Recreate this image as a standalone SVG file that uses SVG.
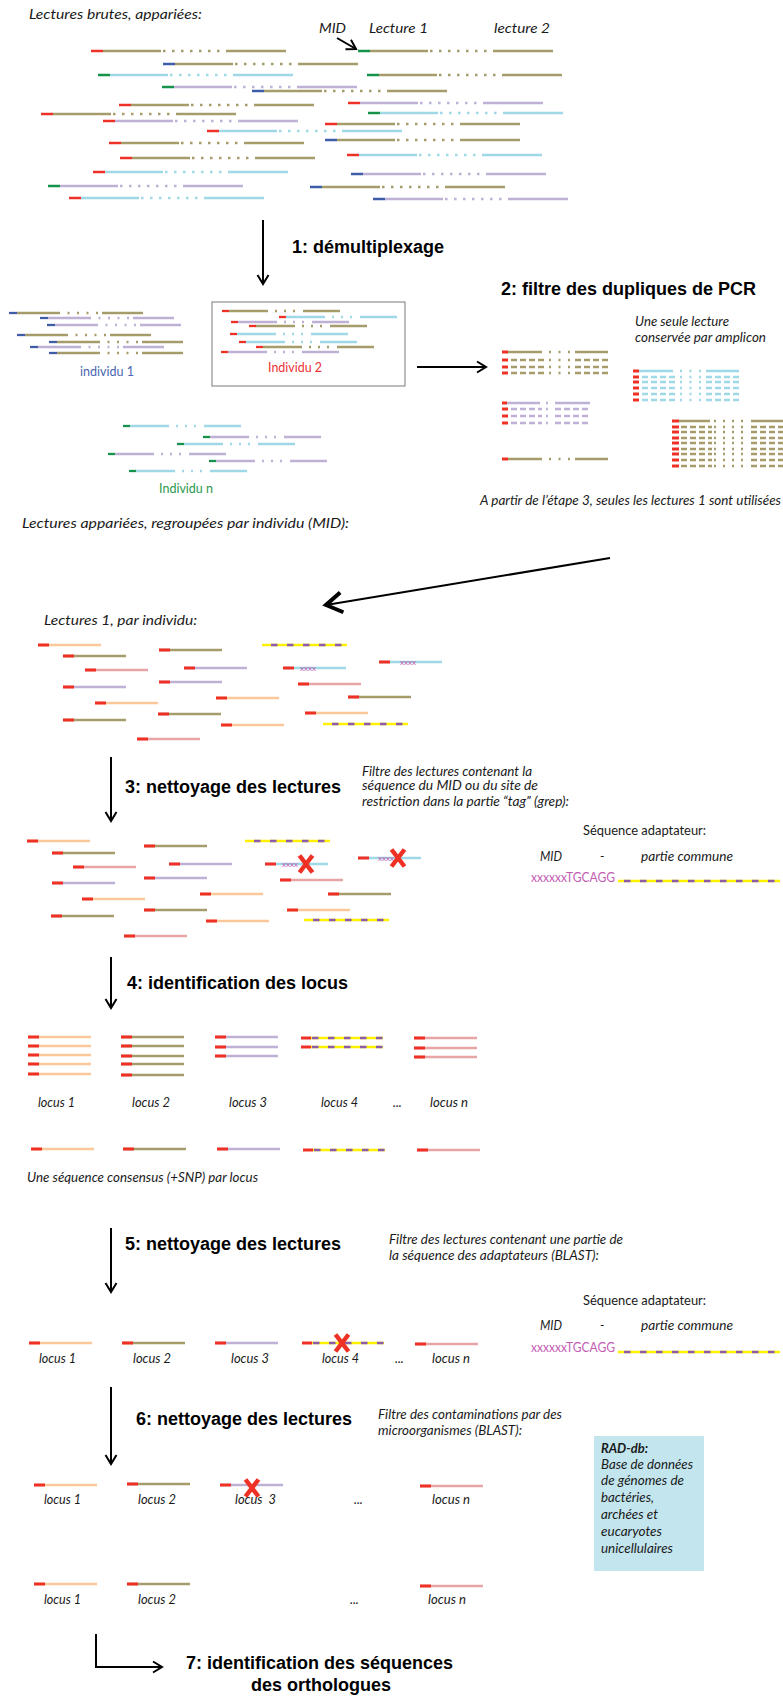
<svg xmlns="http://www.w3.org/2000/svg" width="783" height="1697" viewBox="0 0 783 1697">
<style>
.t{font-family:Lato,"Liberation Sans",sans-serif;font-style:italic;font-size:12.5px;fill:#1a1a1a}
.u{font-family:Lato,"Liberation Sans",sans-serif;font-size:12.5px}
.h{font-family:"Liberation Sans",Arial,sans-serif;font-weight:bold;font-size:18px;fill:#000}
.ol{stroke:#a69b6b}.lv{stroke:#bfb1d6}.lb{stroke:#9fd8e6}.pc{stroke:#fcc89b}.pk{stroke:#e8a5a6}
.mr{color:#ee3124}.mb{color:#3f5ca8}.mg{color:#16924b}
.x{stroke:#ee3124;stroke-width:4.5;fill:none}
.xx{font-family:Lato,"Liberation Sans",sans-serif;font-size:8px;fill:#c35cb3}
.c{fill:none;stroke:#000;stroke-width:2}
</style>
<defs>
<marker id="ah" markerUnits="userSpaceOnUse" markerWidth="14" markerHeight="14" viewBox="-3 -7 14 14" refX="9" refY="0" orient="auto"><path d="M0,-5.5 L9,0 L0,5.5" fill="none" stroke="#000" stroke-width="2"/></marker>
<marker id="ahB" markerUnits="userSpaceOnUse" markerWidth="26" markerHeight="26" viewBox="-3 -13 26 26" refX="16" refY="0" orient="auto"><path d="M0,-10 L16,0 L0,10" fill="none" stroke="#000" stroke-width="4"/></marker>
<g id="pL" fill="none" stroke-width="2.5"><path d="M12 0H70M135 0H195"/><path d="M72 0H129" stroke-dasharray="2.5 6.5"/><path d="M0 0H12" stroke="currentColor"/></g>
<g id="pS" fill="none" stroke-width="2.3"><path d="M8 0H49M93 0H134"/><path d="M49 0H89" stroke-dasharray="2 7.5"/><path d="M0 0H8" stroke="currentColor"/></g>
<g id="pS2" fill="none" stroke-width="2.3"><path d="M7 0H44M81 0H118"/><path d="M44 0H73" stroke-dasharray="2 7"/><path d="M0 0H7" stroke="currentColor"/></g>
<g id="pP" fill="none" stroke-width="2.5"><path d="M6 0H40M73 0H106"/><path d="M47 0H69" stroke-dasharray="2 7.5"/><path d="M0 0H6" stroke="currentColor" stroke-width="3"/></g>
<g id="pD" fill="none" stroke-width="2.5"><path d="M9 0H42" stroke-dasharray="6 3"/><path d="M73 0H108" stroke-dasharray="6 3"/><path d="M47 0H69" stroke-dasharray="2 7.5"/><path d="M0 0H6" stroke="currentColor" stroke-width="3"/></g>
<g id="pP2" fill="none" stroke-width="2.5"><path d="M5 0H38M53 0H88M44 0H46"/><path d="M0 0H5" stroke="currentColor" stroke-width="3"/></g>
<g id="pD2" fill="none" stroke-width="2.5"><path d="M9 0H40M53 0H89" stroke-dasharray="6 3"/><path d="M44 0H46"/><path d="M0 0H6" stroke="currentColor" stroke-width="3"/></g>
<g id="pP3" fill="none" stroke-width="2.5"><path d="M7 0H38M79 0H115"/><path d="M42 0H72" stroke-dasharray="2 7"/><path d="M0 0H7" stroke="currentColor" stroke-width="3"/></g>
<g id="pD3" fill="none" stroke-width="2.5"><path d="M9 0H40M79 0H115" stroke-dasharray="6 3"/><path d="M42 0H72" stroke-dasharray="2 7"/><path d="M0 0H7" stroke="currentColor" stroke-width="3"/></g>
<g id="r" fill="none" stroke-width="2.5"><path d="M0 0H63"/><path d="M0 0H11" stroke="currentColor" stroke-width="3"/></g>
<g id="ad" fill="none" stroke-width="2.5"><path d="M0 0H85" stroke="#fff100"/><path d="M9 0H85" stroke="#8c5ca8" stroke-dasharray="6.5 9.5"/></g>
<g id="r4" fill="none" stroke-width="2.5"><path d="M10 0H82" stroke="#fff100"/><path d="M11 0H82" stroke="#8c5ca8" stroke-dasharray="6.5 9.5"/><path d="M0 0H10" stroke="#ee3124" stroke-width="3"/></g>
<path id="X" d="M-6.5 -8.5L6.5 8.5M6.5 -8.5L-6.5 8.5"/>
</defs>

<g id="connectors">
<path class="c" d="M337 38L356 49" marker-end="url(#ah)" stroke-width="1.5"/>
<path class="c" d="M263 220V284" marker-end="url(#ah)"/>
<path class="c" d="M417 367H486" marker-end="url(#ah)"/>
<path class="c" d="M610 558L326 605" stroke-width="3" marker-end="url(#ahB)"/>
<path class="c" d="M111 757V821" marker-end="url(#ah)"/>
<path class="c" d="M111 957V1008" marker-end="url(#ah)"/>
<path class="c" d="M111 1228V1292" marker-end="url(#ah)"/>
<path class="c" d="M111 1387V1464" marker-end="url(#ah)"/>
<path class="c" d="M96 1634V1667H162" marker-end="url(#ah)"/>
</g>

<g id="raw-reads">
<text class="t" x="29" y="19" font-size="14.5" textLength="173" lengthAdjust="spacingAndGlyphs">Lectures brutes, appariées:</text>
<text class="t" x="319" y="33" font-size="14" textLength="27" lengthAdjust="spacingAndGlyphs">MID</text>
<text class="t" x="369" y="33" font-size="14" textLength="59" lengthAdjust="spacingAndGlyphs">Lecture 1</text>
<text class="t" x="494" y="33" font-size="14" textLength="56" lengthAdjust="spacingAndGlyphs">lecture 2</text>
<use href="#pL" x="91" y="51" class="ol mr"/>
<use href="#pL" x="358" y="51" class="ol mg"/>
<use href="#pL" x="163" y="64" class="ol mb"/>
<use href="#pL" x="98" y="75" class="lb mg"/>
<use href="#pL" x="367" y="75" class="ol mg"/>
<use href="#pL" x="162" y="87" class="lv mg"/>
<use href="#pL" x="252" y="91" class="ol mb"/>
<use href="#pL" x="119" y="105" class="ol mr"/>
<use href="#pL" x="348" y="103" class="lv mr"/>
<use href="#pL" x="41" y="114" class="ol mr"/>
<use href="#pL" x="368" y="113" class="lb mg"/>
<use href="#pL" x="103" y="121" class="lv mr"/>
<use href="#pL" x="325" y="124" class="ol mr"/>
<use href="#pL" x="207" y="131" class="lb mr"/>
<use href="#pL" x="325" y="140" class="ol mb"/>
<use href="#pL" x="109" y="143" class="ol mr"/>
<use href="#pL" x="347" y="155" class="lb mr"/>
<use href="#pL" x="120" y="158" class="ol mr"/>
<use href="#pL" x="93" y="172" class="lb mr"/>
<use href="#pL" x="351" y="174" class="lv mb"/>
<use href="#pL" x="48" y="186" class="lv mg"/>
<use href="#pL" x="310" y="187" class="ol mb"/>
<use href="#pL" x="69" y="198" class="lb mr"/>
<use href="#pL" x="373" y="199" class="lv mb"/>
</g>

<g id="step1">
<text class="h" x="292" y="253">1: démultiplexage</text>
</g>

<g id="individu1" class="mb">
<use href="#pS" x="9" y="313" class="ol"/>
<use href="#pS" x="40" y="318" class="lv"/>
<use href="#pS" x="47" y="325" class="lv"/>
<use href="#pS" x="17" y="335" class="ol"/>
<use href="#pS" x="49" y="342" class="ol"/>
<use href="#pS" x="30" y="347" class="lv"/>
<use href="#pS" x="49" y="353" class="ol"/>
<text class="u" x="80" y="376" fill="#4a67b0" textLength="54" lengthAdjust="spacingAndGlyphs">individu 1</text>
</g>

<g id="individu2" class="mr">
<rect x="212" y="302" width="193" height="84" fill="none" stroke="#7a7a7a" stroke-width="1"/>
<use href="#pS2" x="222" y="311" class="ol"/>
<use href="#pS2" x="279" y="317" class="lb"/>
<use href="#pS2" x="231" y="322" class="lv"/>
<use href="#pS2" x="249" y="326" class="ol"/>
<use href="#pS2" x="230" y="334" class="lb"/>
<use href="#pS2" x="239" y="342" class="lb"/>
<use href="#pS2" x="256" y="347" class="ol"/>
<use href="#pS2" x="221" y="352" class="lv"/>
<text class="u" x="268" y="372" fill="#ec3237" textLength="54" lengthAdjust="spacingAndGlyphs">Individu 2</text>
</g>

<g id="individun" class="mg">
<use href="#pS2" x="123" y="426" class="lb"/>
<use href="#pS2" x="203" y="437" class="lv"/>
<use href="#pS2" x="177" y="444" class="lb"/>
<use href="#pS2" x="108" y="454" class="lv"/>
<use href="#pS2" x="209" y="461" class="lv"/>
<use href="#pS2" x="129" y="471" class="lb"/>
<text class="u" x="159" y="493" fill="#2c9a4c" textLength="54" lengthAdjust="spacingAndGlyphs">Individu n</text>
</g>

<g id="step2" class="mr">
<text class="h" x="501" y="295">2: filtre des dupliques de PCR</text>
<text class="t" x="635" y="326" font-size="12" textLength="94" lengthAdjust="spacingAndGlyphs">Une seule lecture</text>
<text class="t" x="635" y="342" font-size="12" textLength="131" lengthAdjust="spacingAndGlyphs">conservée par amplicon</text>
<use href="#pP" x="502" y="352" class="ol"/>
<use href="#pD" x="502" y="360" class="ol"/>
<use href="#pD" x="502" y="367" class="ol"/>
<use href="#pD" x="502" y="373" class="ol"/>
<use href="#pP2" x="502" y="403" class="lv"/>
<use href="#pD2" x="502" y="409" class="lv"/>
<use href="#pD2" x="502" y="416" class="lv"/>
<use href="#pD2" x="502" y="423" class="lv"/>
<use href="#pP" x="502" y="459" class="ol"/>
<use href="#pP" x="633" y="371" class="lb"/>
<use href="#pD" x="633" y="377" class="lb"/>
<use href="#pD" x="633" y="382" class="lb"/>
<use href="#pD" x="633" y="388" class="lb"/>
<use href="#pD" x="633" y="394" class="lb"/>
<use href="#pD" x="633" y="400" class="lb"/>
<use href="#pP3" x="672" y="421" class="ol"/>
<use href="#pD3" x="672" y="427" class="ol"/>
<use href="#pD3" x="672" y="432" class="ol"/>
<use href="#pD3" x="672" y="438" class="ol"/>
<use href="#pD3" x="672" y="443" class="ol"/>
<use href="#pD3" x="672" y="449" class="ol"/>
<use href="#pD3" x="672" y="454" class="ol"/>
<use href="#pD3" x="672" y="460" class="ol"/>
<use href="#pD3" x="672" y="466" class="ol"/>
<text class="t" x="480" y="505" font-size="12" textLength="301" lengthAdjust="spacingAndGlyphs">A partir de l’étape 3, seules les lectures 1 sont utilisées</text>
</g>

<g id="lectures1" class="mr">
<text class="t" x="22" y="528" font-size="14.5" textLength="327" lengthAdjust="spacingAndGlyphs">Lectures appariées, regroupées par individu (MID):</text>
<text class="t" x="44" y="625" font-size="14" textLength="153" lengthAdjust="spacingAndGlyphs">Lectures 1, par individu:</text>
<use href="#r" x="38" y="645" class="pc"/>
<use href="#r" x="63" y="656" class="ol"/>
<use href="#r" x="85" y="670" class="pk"/>
<use href="#r" x="63" y="687" class="lv"/>
<use href="#r" x="95" y="703" class="pc"/>
<use href="#r" x="63" y="720" class="ol"/>
<use href="#r" x="137" y="739" class="pk"/>
<use href="#r" x="159" y="650" class="ol"/>
<use href="#r" x="184" y="668" class="lv"/>
<use href="#r" x="159" y="682" class="lv"/>
<use href="#r" x="216" y="698" class="pc"/>
<use href="#r" x="158" y="714" class="ol"/>
<use href="#r" x="221" y="725" class="pc"/>
<use href="#ad" x="262" y="645"/>
<use href="#r" x="283" y="668" class="lb"/>
<text class="xx" x="300" y="671" textLength="16" lengthAdjust="spacingAndGlyphs">xxxx</text>
<use href="#r" x="379" y="662" class="lb"/>
<text class="xx" x="400" y="665" textLength="16" lengthAdjust="spacingAndGlyphs">xxxx</text>
<use href="#r" x="298" y="684" class="pk"/>
<use href="#r" x="348" y="697" class="ol"/>
<use href="#r" x="305" y="713" class="pc"/>
<use href="#ad" x="323" y="724"/>
</g>

<g id="step3" class="mr">
<text class="h" x="125" y="793">3: nettoyage des lectures</text>
<text class="t" x="362" y="776" textLength="170" lengthAdjust="spacingAndGlyphs">Filtre des lectures contenant la</text>
<text class="t" x="362" y="790" textLength="176" lengthAdjust="spacingAndGlyphs">séquence du MID ou du site de</text>
<text class="t" x="362" y="806" textLength="207" lengthAdjust="spacingAndGlyphs">restriction dans la partie “tag” (grep):</text>
<use href="#r" x="27" y="841" class="pc"/>
<use href="#r" x="52" y="853" class="ol"/>
<use href="#r" x="73" y="867" class="pk"/>
<use href="#r" x="52" y="883" class="lv"/>
<use href="#r" x="82" y="899" class="pc"/>
<use href="#r" x="51" y="916" class="ol"/>
<use href="#r" x="124" y="936" class="pk"/>
<use href="#r" x="144" y="846" class="ol"/>
<use href="#r" x="169" y="864" class="lv"/>
<use href="#r" x="144" y="878" class="lv"/>
<use href="#r" x="200" y="894" class="pc"/>
<use href="#r" x="144" y="910" class="ol"/>
<use href="#r" x="206" y="921" class="pc"/>
<use href="#ad" x="245" y="841"/>
<use href="#r" x="265" y="864" class="lb"/>
<text class="xx" x="282" y="867" textLength="16" lengthAdjust="spacingAndGlyphs">xxxx</text>
<use href="#X" x="306" y="864" class="x"/>
<use href="#r" x="358" y="858" class="lb"/>
<text class="xx" x="378" y="861" textLength="16" lengthAdjust="spacingAndGlyphs">xxxx</text>
<use href="#X" x="398" y="858" class="x"/>
<use href="#r" x="280" y="880" class="pk"/>
<use href="#r" x="328" y="894" class="ol"/>
<use href="#r" x="287" y="910" class="pc"/>
<use href="#ad" x="304" y="920"/>
</g>

<g id="adapter3">
<text class="u" x="583" y="835" fill="#1a1a1a" textLength="123" lengthAdjust="spacingAndGlyphs">Séquence adaptateur:</text>
<text class="t" x="540" y="861" textLength="22" lengthAdjust="spacingAndGlyphs">MID</text>
<text class="t" x="600" y="861">-</text>
<text class="t" x="641" y="861" textLength="92" lengthAdjust="spacingAndGlyphs">partie commune</text>
<text class="u" x="531" y="882" fill="#c35cb3" textLength="84" lengthAdjust="spacingAndGlyphs">xxxxxxTGCAGG</text>
<path d="M618 881H780" stroke="#fff100" stroke-width="2.5"/>
<path d="M624 881H780" stroke="#8c5ca8" stroke-width="2.5" stroke-dasharray="6.5 9.5"/>
</g>

<g id="step4" class="mr">
<text class="h" x="127" y="989">4: identification des locus</text>
<use href="#r" x="28" y="1037" class="pc"/>
<use href="#r" x="28" y="1046" class="pc"/>
<use href="#r" x="28" y="1055" class="pc"/>
<use href="#r" x="28" y="1064" class="pc"/>
<use href="#r" x="28" y="1074" class="pc"/>
<use href="#r" x="121" y="1037" class="ol"/>
<use href="#r" x="121" y="1046" class="ol"/>
<use href="#r" x="121" y="1056" class="ol"/>
<use href="#r" x="121" y="1064" class="ol"/>
<use href="#r" x="121" y="1075" class="ol"/>
<use href="#r" x="215" y="1037" class="lv"/>
<use href="#r" x="215" y="1047" class="lv"/>
<use href="#r" x="215" y="1056" class="lv"/>
<use href="#r4" x="301" y="1038"/>
<use href="#r4" x="301" y="1047"/>
<use href="#r" x="414" y="1038" class="pk"/>
<use href="#r" x="414" y="1048" class="pk"/>
<use href="#r" x="414" y="1057" class="pk"/>
<text class="t" x="38" y="1107" textLength="37" lengthAdjust="spacingAndGlyphs">locus 1</text>
<text class="t" x="132" y="1107" textLength="38" lengthAdjust="spacingAndGlyphs">locus 2</text>
<text class="t" x="229" y="1107" textLength="38" lengthAdjust="spacingAndGlyphs">locus 3</text>
<text class="t" x="321" y="1107" textLength="37" lengthAdjust="spacingAndGlyphs">locus 4</text>
<text class="t" x="393" y="1107">...</text>
<text class="t" x="430" y="1107" textLength="38" lengthAdjust="spacingAndGlyphs">locus n</text>
<use href="#r" x="31" y="1149" class="pc"/>
<use href="#r" x="123" y="1149" class="ol"/>
<use href="#r" x="217" y="1149" class="lv"/>
<use href="#r4" x="303" y="1150"/>
<use href="#r" x="417" y="1150" class="pk"/>
<text class="t" x="27" y="1182" textLength="231" lengthAdjust="spacingAndGlyphs">Une séquence consensus (+SNP) par locus</text>
</g>

<g id="step5" class="mr">
<text class="h" x="125" y="1250">5: nettoyage des lectures</text>
<text class="t" x="389" y="1244" textLength="234" lengthAdjust="spacingAndGlyphs">Filtre des lectures contenant une partie de</text>
<text class="t" x="389" y="1260" textLength="210" lengthAdjust="spacingAndGlyphs">la séquence des adaptateurs (BLAST):</text>
<use href="#r" x="29" y="1343" class="pc"/>
<use href="#r" x="122" y="1343" class="ol"/>
<use href="#r" x="215" y="1343" class="lv"/>
<use href="#r4" x="302" y="1343"/>
<use href="#X" x="342" y="1343" class="x"/>
<use href="#r" x="415" y="1344" class="pk"/>
<text class="t" x="39" y="1363" textLength="37" lengthAdjust="spacingAndGlyphs">locus 1</text>
<text class="t" x="133" y="1363" textLength="38" lengthAdjust="spacingAndGlyphs">locus 2</text>
<text class="t" x="231" y="1363" textLength="38" lengthAdjust="spacingAndGlyphs">locus 3</text>
<text class="t" x="322" y="1363" textLength="37" lengthAdjust="spacingAndGlyphs">locus 4</text>
<text class="t" x="395" y="1363">...</text>
<text class="t" x="432" y="1363" textLength="38" lengthAdjust="spacingAndGlyphs">locus n</text>
</g>

<g id="adapter5">
<text class="u" x="583" y="1305" fill="#1a1a1a" textLength="123" lengthAdjust="spacingAndGlyphs">Séquence adaptateur:</text>
<text class="t" x="540" y="1330" textLength="22" lengthAdjust="spacingAndGlyphs">MID</text>
<text class="t" x="600" y="1330">-</text>
<text class="t" x="641" y="1330" textLength="92" lengthAdjust="spacingAndGlyphs">partie commune</text>
<text class="u" x="531" y="1352" fill="#c35cb3" textLength="84" lengthAdjust="spacingAndGlyphs">xxxxxxTGCAGG</text>
<path d="M618 1352H780" stroke="#fff100" stroke-width="2.5"/>
<path d="M624 1352H780" stroke="#8c5ca8" stroke-width="2.5" stroke-dasharray="6.5 9.5"/>
</g>

<g id="step6" class="mr">
<text class="h" x="136" y="1425">6: nettoyage des lectures</text>
<text class="t" x="378" y="1419" textLength="184" lengthAdjust="spacingAndGlyphs">Filtre des contaminations par des</text>
<text class="t" x="378" y="1435" textLength="144" lengthAdjust="spacingAndGlyphs">microorganismes (BLAST):</text>
<use href="#r" x="34" y="1485" class="pc"/>
<use href="#r" x="127" y="1484" class="ol"/>
<use href="#r" x="220" y="1485" class="lv"/>
<use href="#X" x="252" y="1488" class="x"/>
<use href="#r" x="420" y="1486" class="pk"/>
<text class="t" x="44" y="1504" textLength="37" lengthAdjust="spacingAndGlyphs">locus 1</text>
<text class="t" x="138" y="1504" textLength="38" lengthAdjust="spacingAndGlyphs">locus 2</text>
<text class="t" x="235" y="1504" textLength="41" lengthAdjust="spacingAndGlyphs" xml:space="preserve">locus  3</text>
<text class="t" x="354" y="1504">...</text>
<text class="t" x="432" y="1504" textLength="38" lengthAdjust="spacingAndGlyphs">locus n</text>
<use href="#r" x="34" y="1584" class="pc"/>
<use href="#r" x="127" y="1584" class="ol"/>
<use href="#r" x="420" y="1586" class="pk"/>
<text class="t" x="44" y="1604" textLength="37" lengthAdjust="spacingAndGlyphs">locus 1</text>
<text class="t" x="138" y="1604" textLength="38" lengthAdjust="spacingAndGlyphs">locus 2</text>
<text class="t" x="350" y="1604">...</text>
<text class="t" x="428" y="1604" textLength="38" lengthAdjust="spacingAndGlyphs">locus n</text>
</g>

<g id="raddb">
<rect x="594" y="1436" width="110" height="135" fill="#c3e5ee"/>
<text class="t" x="601" y="1453" font-weight="bold" textLength="47" lengthAdjust="spacingAndGlyphs">RAD-db:</text>
<text class="t" x="601" y="1469" textLength="92" lengthAdjust="spacingAndGlyphs">Base de données</text>
<text class="t" x="601" y="1485" textLength="83" lengthAdjust="spacingAndGlyphs">de génomes de</text>
<text class="t" x="601" y="1502" textLength="53" lengthAdjust="spacingAndGlyphs">bactéries,</text>
<text class="t" x="601" y="1519" textLength="57" lengthAdjust="spacingAndGlyphs">archées et</text>
<text class="t" x="601" y="1536" textLength="61" lengthAdjust="spacingAndGlyphs">eucaryotes</text>
<text class="t" x="601" y="1553" textLength="72" lengthAdjust="spacingAndGlyphs">unicellulaires</text>
</g>

<g id="step7">
<text class="h" x="186" y="1669">7: identification des séquences</text>
<text class="h" x="321" y="1691" text-anchor="middle">des orthologues</text>
</g>
</svg>
